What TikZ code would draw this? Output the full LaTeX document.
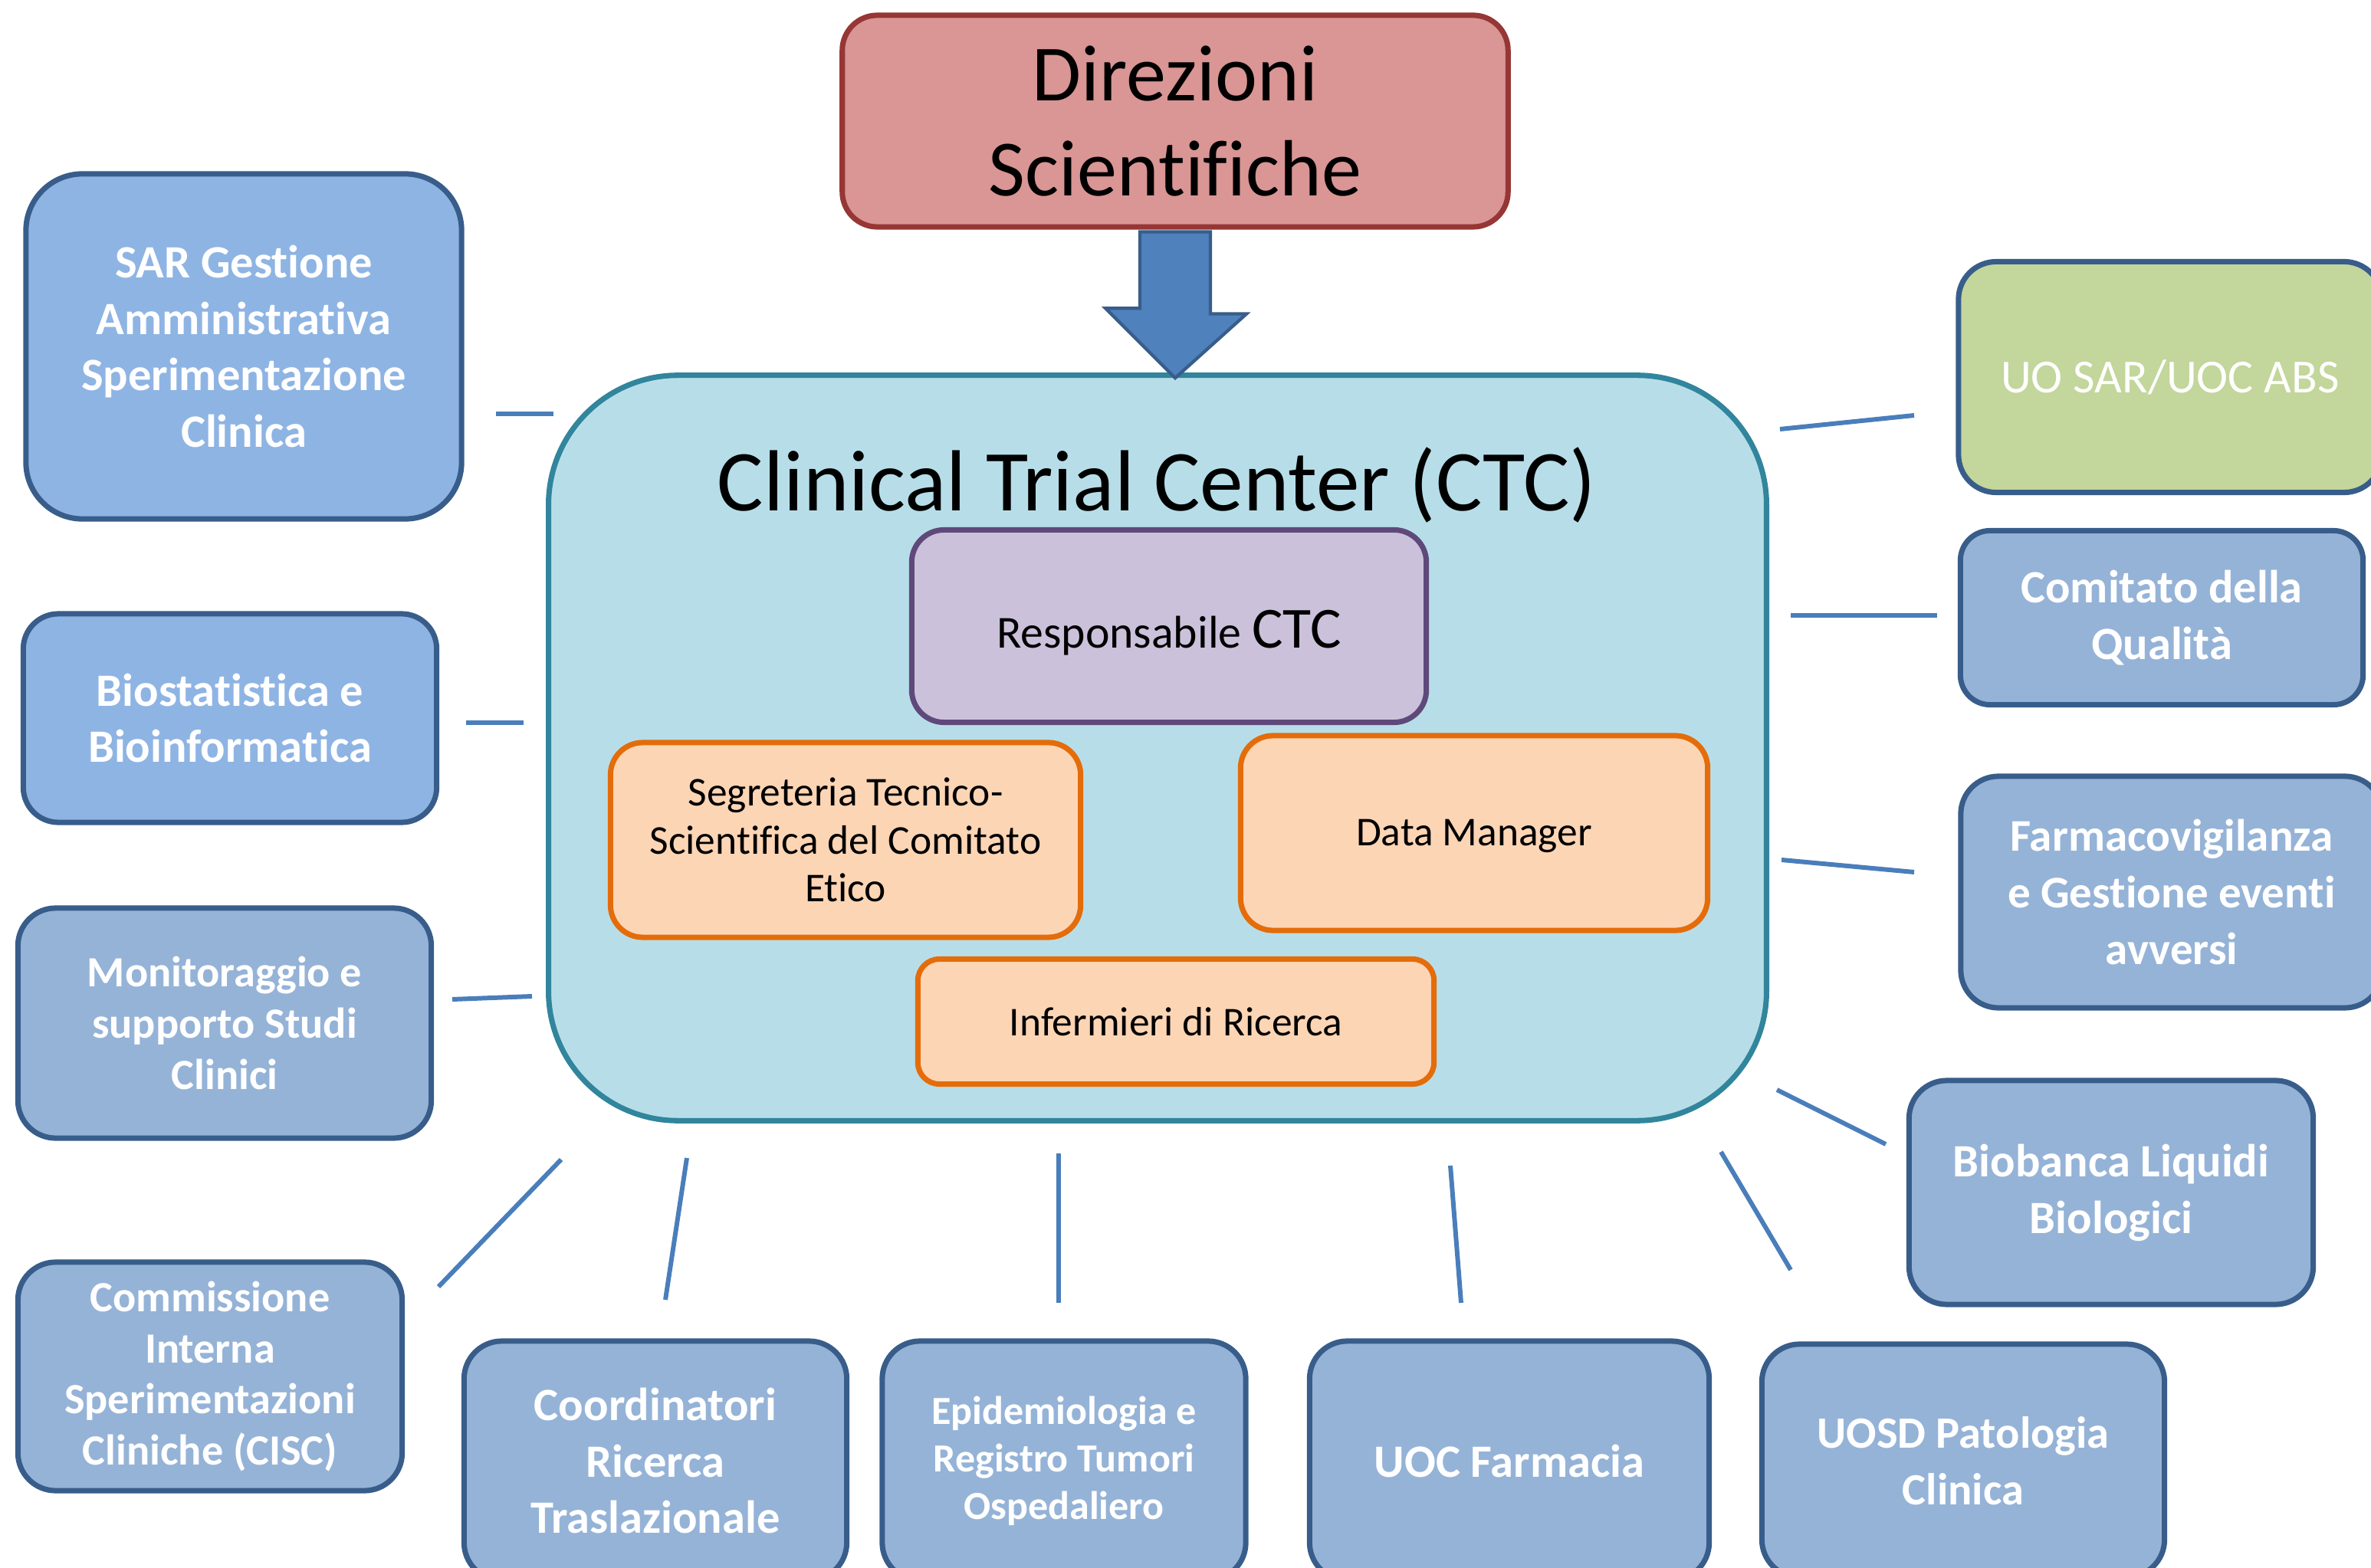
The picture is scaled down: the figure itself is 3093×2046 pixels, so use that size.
\documentclass[tikz,border=0pt]{standalone}
\usepackage{fontspec}
\setmainfont{Carlito}[Ligatures=NoCommon]

\definecolor{boxblue}{RGB}{142,180,227}
\definecolor{boxgrey}{RGB}{149,179,215}
\definecolor{boxline}{RGB}{56,93,138}
\definecolor{absgreen}{RGB}{195,214,155}
\definecolor{ctcfill}{RGB}{183,222,232}
\definecolor{ctcline}{RGB}{49,133,156}
\definecolor{respfill}{RGB}{204,193,218}
\definecolor{respline}{RGB}{95,73,122}
\definecolor{stafffill}{RGB}{252,213,181}
\definecolor{staffline}{RGB}{228,108,10}
\definecolor{dirfill}{RGB}{217,150,148}
\definecolor{dirline}{RGB}{150,55,53}
\definecolor{linkblue}{RGB}{74,126,187}
\definecolor{arrowblue}{RGB}{79,129,189}

\begin{document}
\begin{tikzpicture}[x=0.01cm,y=-0.01cm,
  unit/.style={draw=boxline,line width=2pt,fill=boxgrey,text=white,align=center,
    inner sep=0pt,rounded corners=14pt,font=\bfseries\fontsize{17.2}{21}\selectfont},
  staff/.style={draw=staffline,line width=2pt,fill=stafffill,align=center,inner sep=0pt,
    rounded corners=12pt,font=\fontsize{15.2}{17.8}\selectfont},
  link/.style={draw=linkblue,line width=1.7pt}]
\useasboundingbox (0,0) rectangle (3093,2046);
\clip (0,0) rectangle (3093,2046);

\node[draw=dirline,line width=2pt,fill=dirfill,rounded corners=13pt,align=center,inner sep=0pt,
  minimum width=8.68cm,minimum height=2.76cm,font=\fontsize{29.6}{35.3}\selectfont]
  (dir) at (1533,158) {Direzioni\\Scientifiche};

\node[draw=ctcline,line width=2pt,fill=ctcfill,rounded corners=48pt,inner sep=0pt,
  minimum width=15.88cm,minimum height=9.72cm] (ctc) at (1510,976) {};
\node[anchor=base,font=\fontsize{32.2}{38}\selectfont] (ctctitle) at (1509,667)
  {Clinical Trial Center (CTC)};
\node[draw=respline,line width=2pt,fill=respfill,rounded corners=12pt,inner sep=0pt,
  minimum width=6.71cm,minimum height=2.51cm,text height=0.86cm,text depth=0.3cm] (resp) at (1525,817)
  {\fontsize{17}{20}\selectfont Responsabile \fontsize{21.6}{26}\selectfont CTC};
\node[staff,minimum width=6.13cm,minimum height=2.54cm] (segr) at (1103,1096)
  {Segreteria Tecnico-\\Scientifica del Comitato\\Etico};
\node[staff,minimum width=6.09cm,minimum height=2.54cm,text height=0.52cm,text depth=0.2cm]
  (dm) at (1923,1087) {Data Manager};
\node[staff,minimum width=6.73cm,minimum height=1.63cm,rounded corners=8pt] (inf) at (1534,1333)
  {Infermieri di Ricerca};

\coordinate (tip) at ([yshift=-0.07cm]dir.south |- ctc.north);
\filldraw[fill=arrowblue,draw=boxline,line width=1.2pt] (dir.south) ++(-46,3) -- ++(92,0)
  -- ++(0,107) -- ++(47,0) -- (tip) -- ++(-91,-91) -- ++(45,0) -- cycle;

\node[unit,fill=boxblue,minimum width=5.68cm,minimum height=4.50cm,rounded corners=21pt]
  (sar) at (318,452) {SAR Gestione\\Amministrativa\\Sperimentazione\\Clinica};
\node[unit,fill=boxblue,minimum width=5.39cm,minimum height=2.72cm,rounded corners=13pt]
  (biostat) at (300,937) {Biostatistica e\\Bioinformatica};
\node[unit,minimum width=5.39cm,minimum height=3.00cm,font=\bfseries\fontsize{16}{19}\selectfont]
  (monit) at (293,1335) {Monitoraggio e\\supporto Studi\\Clinici};
\node[unit,minimum width=5.01cm,minimum height=2.98cm,font=\bfseries\fontsize{16}{19}\selectfont]
  (cisc) at (274,1796) {Commissione\\Interna\\Sperimentazioni\\Cliniche (CISC)};
\node[unit,minimum width=4.99cm,minimum height=3.12cm] (coord) at (855,1906)
  {Coordinatori\\Ricerca\\Traslazionale};
\node[unit,minimum width=4.74cm,minimum height=3.12cm,font=\bfseries\fontsize{14.8}{17.6}\selectfont]
  (epid) at (1388,1906) {Epidemiologia e\\Registro Tumori\\Ospedaliero};
\node[unit,minimum width=5.21cm,minimum height=3.12cm] (farm) at (1969,1906) {UOC Farmacia};
\node[unit,minimum width=5.25cm,minimum height=3.04cm,font=\bfseries\fontsize{16.6}{21}\selectfont]
  (uosd) at (2561,1906) {UOSD Patologia\\Clinica};
\node[unit,minimum width=5.27cm,minimum height=2.92cm] (biob) at (2754,1556)
  {Biobanca Liquidi\\Biologici};
\node[unit,fill=absgreen,minimum width=5.52cm,minimum height=3.01cm,
  font=\fontsize{17.6}{21}\selectfont] (abs) at (2831,492) {UO SAR/UOC ABS};
\node[unit,minimum width=5.25cm,minimum height=2.27cm,rounded corners=11pt] (qual) at (2820,806)
  {Comitato della\\Qualità};
\node[unit,minimum width=5.50cm,minimum height=3.02cm,font=\bfseries\fontsize{16.8}{21}\selectfont]
  (fvig) at (2833,1164) {Farmacovigilanza\\e Gestione eventi\\avversi};

\coordinate (sar-a) at (647,540);   \coordinate (sar-b) at (722,540);
\coordinate (bio-a) at (608,943);   \coordinate (bio-b) at (683,943);
\coordinate (mon-a) at (590,1304);  \coordinate (mon-b) at (694,1300);
\coordinate (cisc-a) at (572,1679); \coordinate (cisc-b) at (732,1513);
\coordinate (coord-a) at (868,1696); \coordinate (coord-b) at (896,1511);
\coordinate (epid-a) at (1381,1700); \coordinate (epid-b) at (1381,1505);
\coordinate (farm-a) at (1906,1700); \coordinate (farm-b) at (1892,1521);
\coordinate (uosd-a) at (2336,1657); \coordinate (uosd-b) at (2245,1503);
\coordinate (biob-a) at (2460,1493); \coordinate (biob-b) at (2318,1422);
\coordinate (abs-a) at (2497,542);  \coordinate (abs-b) at (2322,560);
\coordinate (qual-a) at (2527,803); \coordinate (qual-b) at (2336,803);
\coordinate (fvig-a) at (2497,1138); \coordinate (fvig-b) at (2324,1122);

\draw[link] (sar-a) -- (sar-b);
\draw[link] (bio-a) -- (bio-b);
\draw[link] (mon-a) -- (mon-b);
\draw[link] (cisc-a) -- (cisc-b);
\draw[link] (coord-a) -- (coord-b);
\draw[link] (epid-a) -- (epid-b);
\draw[link] (farm-a) -- (farm-b);
\draw[link] (uosd-a) -- (uosd-b);
\draw[link] (biob-a) -- (biob-b);
\draw[link] (abs-a) -- (abs-b);
\draw[link] (qual-a) -- (qual-b);
\draw[link] (fvig-a) -- (fvig-b);
\end{tikzpicture}
\end{document}
